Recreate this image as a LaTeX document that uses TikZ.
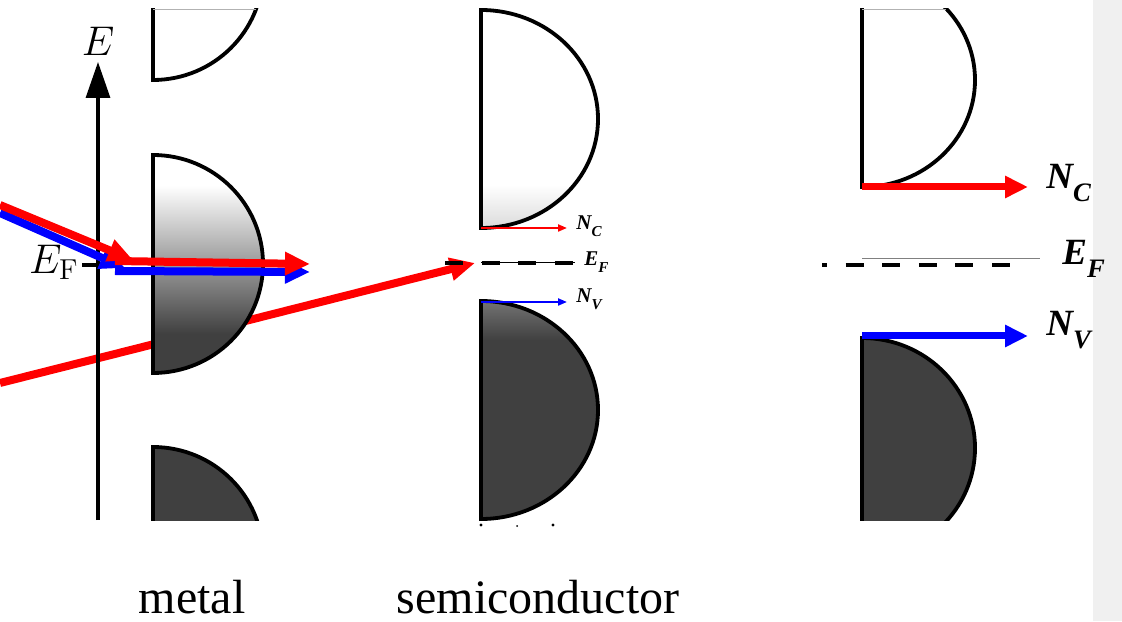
\documentclass[tikz,border=0pt]{standalone}
\usepackage[no-math]{fontspec}
\setmainfont{Liberation Serif}
\usetikzlibrary{arrows.meta}
\definecolor{bandgray}{HTML}{404040}
\definecolor{sidegray}{HTML}{F0F0F0}
\pgfdeclareverticalshading{metalfill}{100bp}{color(0bp)=(bandgray); color(34bp)=(bandgray); color(68bp)=(white); color(100bp)=(white)}
\pgfdeclareverticalshading{condfill}{100bp}{color(0bp)=(black!14); color(25bp)=(black!14); color(35bp)=(white); color(100bp)=(white)}
\pgfdeclareverticalshading{valfill}{100bp}{color(0bp)=(bandgray); color(66bp)=(bandgray); color(75bp)=(black!55); color(100bp)=(black!55)}
\newcommand{\bandsub}[1]{\raisebox{-0.35em}{\scalebox{0.72}{#1}}}

\begin{document}
\begin{tikzpicture}[x=0.5pt, y=0.5pt,
  band/.style={draw=black, line width=1.9pt},
  fatarrow/.style={line width=4pt, -{Triangle[length=12.5pt, width=11pt]}},
  midarrow/.style={line width=3.5pt, -{Triangle[length=11.5pt, width=10.5pt]}},
  thinarrow/.style={line width=1pt, -{Triangle[length=4.5pt, width=3.5pt]}},
  fermi/.style={line width=1.8pt, dash pattern=on 9pt off 9.3pt},
  biglab/.style={font=\fontsize{18.5}{22}\selectfont\bfseries\itshape, inner sep=0pt, anchor=west},
  smalllab/.style={font=\fontsize{10.5}{12}\selectfont\bfseries\itshape, inner sep=0pt, anchor=west},
  mathlab/.style={font=\fontsize{22}{26}\selectfont, inner sep=0pt}]
  \useasboundingbox (0,0) rectangle (1122,621);
  \fill[sidegray] (1093,0) rectangle (1122,621);

  % red arrow from far left to the semiconductor
  \coordinate (longA) at (0,238);
  \coordinate (longB) at (475,358);
  \draw[red, fatarrow] (longA) -- (longB);

  % energy axis
  \coordinate (axisbot) at (98,101);
  \coordinate (axistop) at (98,559);
  \draw[line width=1.6pt, -{Triangle[length=18pt, width=12pt]}] (axisbot) -- (axistop);
  \node[mathlab] (elabel) at (98,580) {$E$};
  \coordinate (eftick) at (82,356);
  \draw[line width=1.6pt] (eftick) -- (98,356);
  \node[mathlab, anchor=east] (eflabel) at (79,359) {$E_{\mathrm F}$};

  % bands
  \begin{scope}
    \clip (0,101) rectangle (1093,612);
    \draw[band, fill=white] (153,759) arc[start angle=90, end angle=-90, x radius=110, y radius=109] -- cycle;
    \shadedraw[band, shading=metalfill] (153,466) arc[start angle=90, end angle=-90, x radius=110, y radius=109] -- cycle;
    \draw[band, fill=bandgray] (153,174) arc[start angle=90, end angle=-90, x radius=110, y radius=109] -- cycle;
    \shadedraw[band, shading=condfill] (481,611) arc[start angle=90, end angle=-90, x radius=117, y radius=109] -- cycle;
    \shadedraw[band, shading=valfill] (481,320) arc[start angle=90, end angle=-90, x radius=117, y radius=109] -- cycle;
    \draw[band, fill=white] (862,648) arc[start angle=90, end angle=-90, x radius=113, y radius=107] -- cycle;
    \draw[band, fill=bandgray] (862,283) arc[start angle=90, end angle=-90, x radius=113, y radius=110] -- cycle;
  \end{scope}
  \draw[black!30, line width=0.5pt] (153,611) -- (256,611);
  \draw[black!30, line width=0.5pt] (862,611) -- (946,611);

  % metal arrows
  \coordinate (blueA) at (0,408);
  \coordinate (blueB) at (125,353);
  \coordinate (blueC) at (115,350);
  \coordinate (blueD) at (310,349);
  \coordinate (redA) at (0,416);
  \coordinate (redB) at (133,361);
  \coordinate (redC) at (115,360);
  \coordinate (redD) at (310,357);
  \draw[blue, fatarrow] (blueA) -- (blueB);
  \draw[blue, fatarrow] (blueC) -- (blueD);
  \draw[red, fatarrow] (redA) -- (redB);
  \draw[red, fatarrow] (redC) -- (redD);

  % semiconductor
  \coordinate (scNcA) at (481,393);
  \coordinate (scNcB) at (567,393);
  \draw[red, thinarrow] (scNcA) -- (scNcB);
  \node[smalllab] (scnclabel) at (576,395) {N\bandsub{C}};
  \coordinate (scEfA) at (445,358);
  \coordinate (scEfB) at (481,358);
  \coordinate (scEfC) at (575,358);
  \draw[fermi] (scEfA) -- (scEfC);
  \draw[line width=0.5pt] (scEfB) -- (scEfC);
  \node[smalllab] (scEflabel) at (584,359) {E\bandsub{F}};
  \coordinate (scNvA) at (481,319);
  \coordinate (scNvB) at (567,319);
  \draw[blue, thinarrow] (scNvA) -- (scNvB);
  \node[smalllab] (scnvlabel) at (576,322) {N\bandsub{V}};
  \fill (481,96) circle (1.6);
  \fill (517,95) circle (1);
  \fill (553,96) circle (1.6);

  % right panel
  \coordinate (rNcA) at (862,434);
  \coordinate (rNcB) at (1028,434);
  \draw[red, midarrow] (rNcA) -- (rNcB);
  \node[biglab] (rnclabel) at (1046,438) {N\bandsub{C}};
  \coordinate (rEfA) at (822,356);
  \coordinate (rEfB) at (1010,356);
  \draw[fermi, dash phase=6.5pt] (rEfA) -- (rEfB);
  \coordinate (rEfC) at (862,362);
  \coordinate (rEfD) at (1040,362);
  \draw[black!50, line width=0.5pt] (rEfC) -- (rEfD);
  \node[biglab] (reflabel) at (1062,362) {E\bandsub{F}};
  \coordinate (rNvA) at (862,285);
  \coordinate (rNvB) at (1028,285);
  \draw[blue, midarrow] (rNvA) -- (rNvB);
  \node[biglab] (rnvlabel) at (1046,291) {N\bandsub{V}};

  % captions
  \node[font=\fontsize{24}{28}\selectfont, anchor=base, inner sep=0pt] (metallab) at (192,8) {metal};
  \node[font=\fontsize{24}{28}\selectfont, anchor=base, inner sep=0pt] (semilab) at (538,8) {semiconductor};
\end{tikzpicture}
\end{document}
